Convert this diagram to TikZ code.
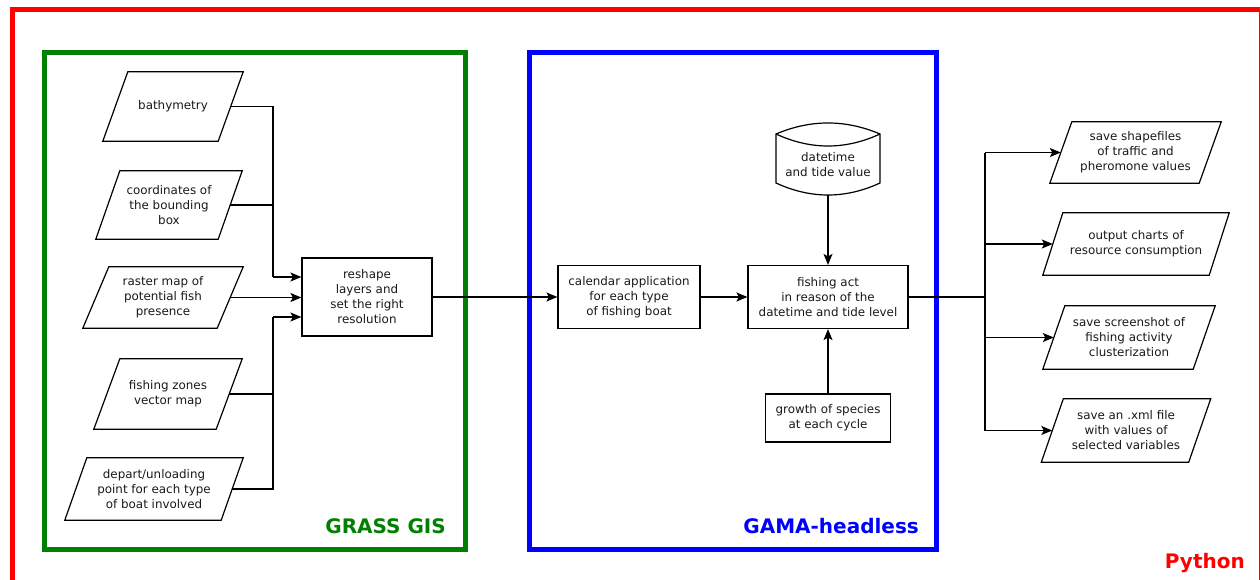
\documentclass[tikz,border=0pt]{standalone}
\usepackage{fontspec}
\setmainfont{DejaVu Sans}
\usetikzlibrary{arrows.meta}
\definecolor{ggreen}{RGB}{0,128,0}
\definecolor{bblue}{RGB}{0,0,255}
\definecolor{rred}{RGB}{255,0,0}
\newcommand{\drawpara}[2]{\draw[line width=1.2pt] ([xshift=#2/2]#1.north west) -- ([xshift=#2/2]#1.north east) -- ([xshift=-#2/2]#1.south east) -- ([xshift=-#2/2]#1.south west) -- cycle;}
\begin{document}
\begin{tikzpicture}[x=1pt,y=-1pt,
  every node/.style={font=\fontsize{11.9}{15}\selectfont, align=center, inner sep=0pt, text=black!90},
  box/.style={draw, line width=1.2pt},
  io/.style={draw=none},
  conn/.style={line width=1.3pt},
  arr/.style={line width=1.3pt, -{Stealth[length=11pt,width=9pt,inset=2.5pt]}},
  frame/.style={line width=5pt},
  lbl/.style={font=\bfseries\fontsize{20}{24}\selectfont, anchor=base east}]
\useasboundingbox (0,0) rectangle (1260,579);
% frames
\draw[frame, rred] (12.5,9.5) rectangle (1261,600);
\draw[frame, ggreen] (44,52) rectangle (465.5,549);
\draw[frame, bblue] (529.5,52) rectangle (936.5,549);
\node[lbl, text=ggreen] (lgrass) at (446,533) {GRASS GIS};
\node[lbl, text=bblue] (lgama) at (919,533) {GAMA-headless};
\node[lbl, text=rred] (lpy) at (1245,568) {Python};
% inputs
\node[io, minimum width=115pt, minimum height=69pt] (bath) at (173,106.5) {bathymetry};
\node[io, minimum width=122pt, minimum height=68pt] (coord) at (169,205) {coordinates of\\the bounding\\box};
\node[io, minimum width=134pt, minimum height=61pt] (raster) at (163,297.5) {raster map of\\potential fish\\presence};
\node[io, minimum width=122pt, minimum height=70pt] (zones) at (168,394) {fishing zones\\vector map};
\node[io, minimum width=156pt, minimum height=62pt] (depart) at (154,489) {depart/unloading\\point for each type\\of boat involved};
\drawpara{bath}{25}
\drawpara{coord}{24}
\drawpara{raster}{26}
\drawpara{zones}{26}
\drawpara{depart}{22}
\node[box, minimum width=130pt, minimum height=78pt] (reshape) at (367,297) {reshape\\layers and\\set the right\\resolution};
\coordinate (jt) at (273,277);
\coordinate (jb) at (273,317);
\draw[conn] (bath.east) -| (jt);
\draw[conn] (coord.east) -- (coord.east -| jt);
\draw[arr] (jt) -- (jt -| reshape.west);
\draw[arr] (raster.east) -- (raster.east -| reshape.west);
\draw[conn] (depart.east) -| (jb);
\draw[conn] (zones.east) -- (zones.east -| jb);
\draw[arr] (jb) -- (jb -| reshape.west);
% GAMA
\node[box, minimum width=142pt, minimum height=63pt] (cal) at (629,297) {calendar application\\for each type\\of fishing boat};
\node[box, minimum width=160pt, minimum height=63pt] (act) at (828,297) {fishing act\\in reason of the\\datetime and tide level};
\node[box, minimum width=125pt, minimum height=48pt] (growth) at (828,418) {growth of species\\at each cycle};
\node (dt) at (828,165) {datetime\\and tide value};
\draw[line width=1.2pt] (776,134) .. controls (810.7,119.3) and (845.3,119.3) .. (880,134) -- (880,183) .. controls (845.3,199) and (810.7,199) .. (776,183) -- cycle;
\draw[line width=1.2pt] (776,134) .. controls (810.7,150) and (845.3,150) .. (880,134);
\coordinate (dtb) at (828,195);
\draw[arr] (reshape.east) -- (cal.west);
\draw[arr] (cal.east) -- (act.west);
\draw[arr] (dtb) -- (act.north);
\draw[arr] (growth.north) -- (act.south);
% outputs
\node[io, minimum width=149pt, minimum height=61pt] (o1) at (1135.5,152.5) {save shapefiles\\of traffic and\\pheromone values};
\node[io, minimum width=166pt, minimum height=62pt] (o2) at (1136,244) {output charts of\\resource consumption};
\node[io, minimum width=150pt, minimum height=63pt] (o3) at (1129,337.5) {save screenshot of\\fishing activity\\clusterization};
\node[io, minimum width=147pt, minimum height=63pt] (o4) at (1126,430.5) {save an .xml file\\with values of\\selected variables};
\drawpara{o1}{22}
\drawpara{o2}{20}
\drawpara{o3}{22}
\drawpara{o4}{22}
\coordinate (split) at (985,297);
\draw[line width=1.7pt] (act.east) -- (split);
\draw[conn] (o1.west -| split) -- (o4.west -| split);
\draw[arr] (o1.west -| split) -- (o1.west);
\draw[arr] (o2.west -| split) -- (o2.west);
\draw[arr] (o3.west -| split) -- (o3.west);
\draw[arr] (o4.west -| split) -- (o4.west);
\end{tikzpicture}
\end{document}
